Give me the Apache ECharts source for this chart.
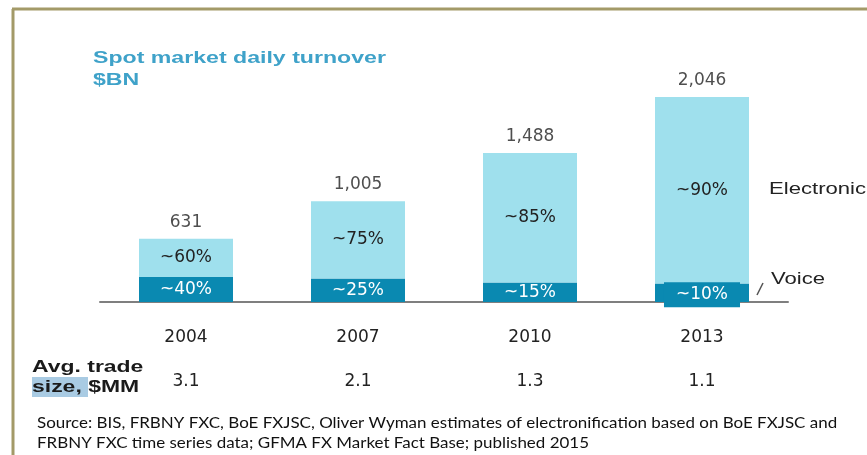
<!DOCTYPE html>
<html>
<head>
<meta charset="utf-8">
<script src="https://cdn.jsdelivr.net/npm/echarts@6/dist/echarts.min.js"></script>
<style>
  html, body { margin: 0; padding: 0; background: #fff; }
  #chart { width: 867px; height: 455px; }
</style>
</head>
<body>
<div id="chart"></div>
<script>
// data
const years = ['2004', '2007', '2010', '2013'];
const totals = [631, 1005, 1488, 2046];
const voice = [250, 235, 195, 185];
const electronic = [381, 770, 1293, 1861];
const voiceShare = ['~40%', '~25%', '~15%', '~10%'];
const electronicShare = ['~60%', '~75%', '~85%', '~90%'];
const avgTradeSize = ['3.1', '2.1', '1.3', '1.1'];

const lightBlue = '#9fe0ed';
const darkBlue = '#0a89b1';
const labelFont = 'DejaVu Sans';

let myChart = echarts.init(document.getElementById('chart'));

let option = {
  animation: false,
  textStyle: { fontFamily: labelFont },
  grid: { left: 100, right: 79, top: 97, bottom: 153 },
  xAxis: [
    {
      type: 'category',
      data: years,
      axisLine: { lineStyle: { color: '#7f7f7f', width: 2 } },
      axisTick: { show: false },
      axisLabel: { color: '#222', fontSize: 17, margin: 27 }
    },
    {
      type: 'category',
      position: 'bottom',
      offset: 71,
      data: avgTradeSize,
      axisLine: { show: false },
      axisTick: { show: false },
      axisLabel: { color: '#222', fontSize: 17, margin: 0 }
    }
  ],
  yAxis: {
    type: 'value',
    min: 0,
    max: 2046,
    show: false
  },
  series: [
    {
      name: 'Voice',
      type: 'bar',
      stack: 'all',
      barWidth: 94,
      data: voice.map((v, i) => {
        let d = { value: v };
        if (i == 3) {
          // highlighted box on the last bar
          d.label = { backgroundColor: darkBlue, padding: [4, 12], offset: [0, 2] };
        }
        return d;
      }),
      itemStyle: { color: darkBlue },
      label: {
        show: true,
        position: 'inside',
        color: '#fff',
        fontSize: 17,
        formatter: p => voiceShare[p.dataIndex]
      }
    },
    {
      name: 'Electronic',
      type: 'bar',
      stack: 'all',
      barWidth: 94,
      data: electronic,
      itemStyle: { color: lightBlue },
      label: {
        show: true,
        position: 'inside',
        color: '#222',
        fontSize: 17,
        formatter: p => electronicShare[p.dataIndex]
      }
    },
    {
      name: 'Total',
      type: 'scatter',
      symbolSize: 0,
      data: totals,
      label: {
        show: true,
        position: 'top',
        distance: 8,
        color: '#222',
        fontSize: 17,
        formatter: p => echarts.format.addCommas(p.value)
      }
    }
  ],
  graphic: [
    // frame
    { type: 'line', shape: { x1: 12, y1: 9, x2: 867, y2: 9 }, style: { stroke: '#a39a68', lineWidth: 3 } },
    { type: 'line', shape: { x1: 13, y1: 9, x2: 13, y2: 455 }, style: { stroke: '#a39a68', lineWidth: 3 } },
    // title (the source image is stretched sideways)
    { type: 'text', x: 93, y: 50, scaleX: 1.36, style: { text: 'Spot market daily turnover', font: 'bold 17px "Liberation Sans"', fill: '#3fa2c9' } },
    { type: 'text', x: 93, y: 72, scaleX: 1.36, style: { text: '$BN', font: 'bold 17px "Liberation Sans"', fill: '#3fa2c9' } },
    // labels on the right
    { type: 'text', x: 769, y: 181, scaleX: 1.3, style: { text: 'Electronic', font: '17px "Liberation Sans"', fill: '#222' } },
    { type: 'line', shape: { x1: 757, y1: 295, x2: 763, y2: 283 }, style: { stroke: '#555', lineWidth: 1.5 } },
    { type: 'text', x: 771, y: 271, scaleX: 1.3, style: { text: 'Voice', font: '17px "Liberation Sans"', fill: '#222' } },
    // avg trade size row title
    { type: 'rect', shape: { x: 32, y: 377, width: 56, height: 20 }, style: { fill: '#a9cbe3' } },
    { type: 'text', x: 32, y: 357, scaleX: 1.35, style: { text: 'Avg. trade\nsize, $MM', font: 'bold 17px "Liberation Sans"', fill: '#1a1a1a', lineHeight: 20 } },
    // source
    {
      type: 'text', x: 37, y: 413, scaleX: 1.06,
      style: {
        text: 'Source: BIS, FRBNY FXC, BoE FXJSC, Oliver Wyman estimates of electronification based on BoE FXJSC and\nFRBNY FXC time series data; GFMA FX Market Fact Base; published 2015',
        font: '16px Lato', fill: '#111', lineHeight: 20
      }
    }
  ]
};

myChart.setOption(option);
</script>
</body>
</html>
